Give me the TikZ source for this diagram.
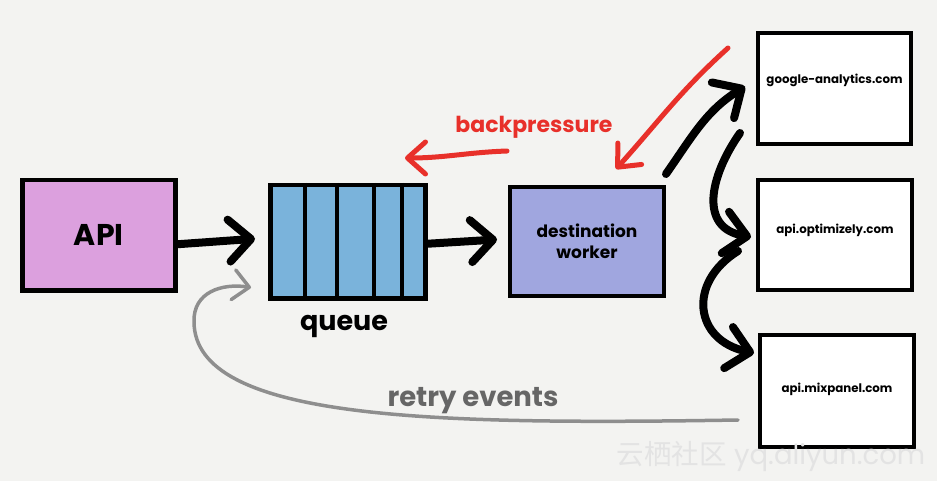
\documentclass[tikz,border=0pt]{standalone}
\usepackage{fontspec}
\setmainfont{Poppins}
\newfontfamily\cjkfont{Noto Sans CJK SC}
\usepackage{tikz}
\usetikzlibrary{arrows.meta}
\definecolor{bgcol}{HTML}{F3F3F1}
\definecolor{apicol}{HTML}{DCA0DE}
\definecolor{queuecol}{HTML}{7AB3DB}
\definecolor{workcol}{HTML}{A0A6DF}
\definecolor{bpred}{HTML}{E8302A}
\definecolor{retrygrey}{HTML}{8E8E8E}
\definecolor{retrytext}{HTML}{666666}
\tikzset{
  box/.style={draw=black,line width=4.5pt,anchor=north west,inner sep=0pt},
  site/.style={box,fill=white,line width=4pt},
  sitetxt/.style={font=\bfseries\fontsize{11.8}{13}\selectfont},
  fat/.style={line width=8pt,line cap=round,-{Straight Barb[round,length=22pt,width=42pt]}},
  redarr/.style={bpred,line width=5pt,line cap=round,-{Straight Barb[round,length=18pt,width=32pt]}},
  retry/.style={retrygrey,line width=3.5pt,line cap=round,-{Straight Barb[round,length=16pt,width=30pt]}}
}
\begin{document}
\begin{tikzpicture}[x=1pt,y=-1pt]
%background
\fill[bgcol] (0,0) rectangle (937,481);
\useasboundingbox (0,0) rectangle (937,481);
%boxes
\node[box,fill=apicol,minimum width=153pt,minimum height=110pt,font=\bfseries\fontsize{30}{30}\selectfont] (api) at (20,178) {API};
\node[box,fill=queuecol,minimum width=155pt,minimum height=113pt] (queue) at (268,183) {};
\foreach \x in {37,69,106,134} \draw[line width=3.5pt] ([xshift=\x pt]queue.north west) -- ([xshift=\x pt]queue.south west);
\node[font=\bfseries\fontsize{27}{27}\selectfont] (qlabel) at (344,326) {queue};
\node[box,fill=workcol,line width=4pt,minimum width=154pt,minimum height=109pt,align=center,font=\bfseries\fontsize{17}{21}\selectfont] (worker) at (508,185) {destination\\worker};
%destinations
\node[site,minimum width=153pt,minimum height=111pt] (ga) at (756,31) {};
\node[sitetxt] (ga txt) at ([yshift=8pt]ga.center) {google-analytics.com};
\node[site,minimum width=154pt,minimum height=110pt] (opt) at (756,178) {};
\node[sitetxt] (opt txt) at ([yshift=5pt]opt.center) {api.optimizely.com};
\node[site,minimum width=154pt,minimum height=112pt] (mix) at (758,333) {};
\node[sitetxt] (mix txt) at ([yshift=2pt]mix.center) {api.mixpanel.com};
%main flow
\draw[fat] ([yshift=-9pt]api.east) -- ([xshift=-13pt,yshift=3pt]queue.west);
\draw[fat] ([yshift=-2pt]queue.east) -- ([xshift=-11pt,yshift=2pt]worker.west);
\draw[fat] ([yshift=11pt]worker.north east) to[out=55,in=212] ([xshift=-11pt,yshift=2pt]ga.west);
\draw[fat] ([xshift=-16pt,yshift=13pt]ga.south west) to[out=235,in=170,looseness=1.3] ([xshift=-5pt,yshift=-2pt]opt.west);
\draw[fat] ([xshift=-18pt,yshift=-16pt]opt.west) to[out=212,in=168,looseness=1.5] ([xshift=-4pt,yshift=-20pt]mix.north west);
%backpressure
\coordinate (bp top) at (728,48);
\coordinate (bp start) at (507,151);
\coordinate (bp end) at (405,158);
\draw[redarr] (bp top) to[out=222,in=48] ([xshift=29pt,yshift=16pt]worker.north);
\draw[redarr] (bp start) to[out=182,in=0] (bp end);
\node[bpred,font=\bfseries\fontsize{22}{22}\selectfont] (bp label) at (534,127) {backpressure};
%retry events
\draw[retry] ([xshift=-20pt,yshift=-29pt]mix.west) .. controls (430,425) and (195,420) .. (194,322)
  .. controls (193,292) and (222,283) .. ([xshift=-17pt,yshift=13pt]queue.south west);
\node[retrytext,font=\bfseries\fontsize{27.5}{27.5}\selectfont] (retry label) at (473,401) {retry events};
%watermark
\node[color=black!11,font=\fontsize{27.5}{27.5}\selectfont] (wm) at (771,456) {{\cjkfont 云栖社区} yq.aliyun.com};
\end{tikzpicture}
\end{document}
